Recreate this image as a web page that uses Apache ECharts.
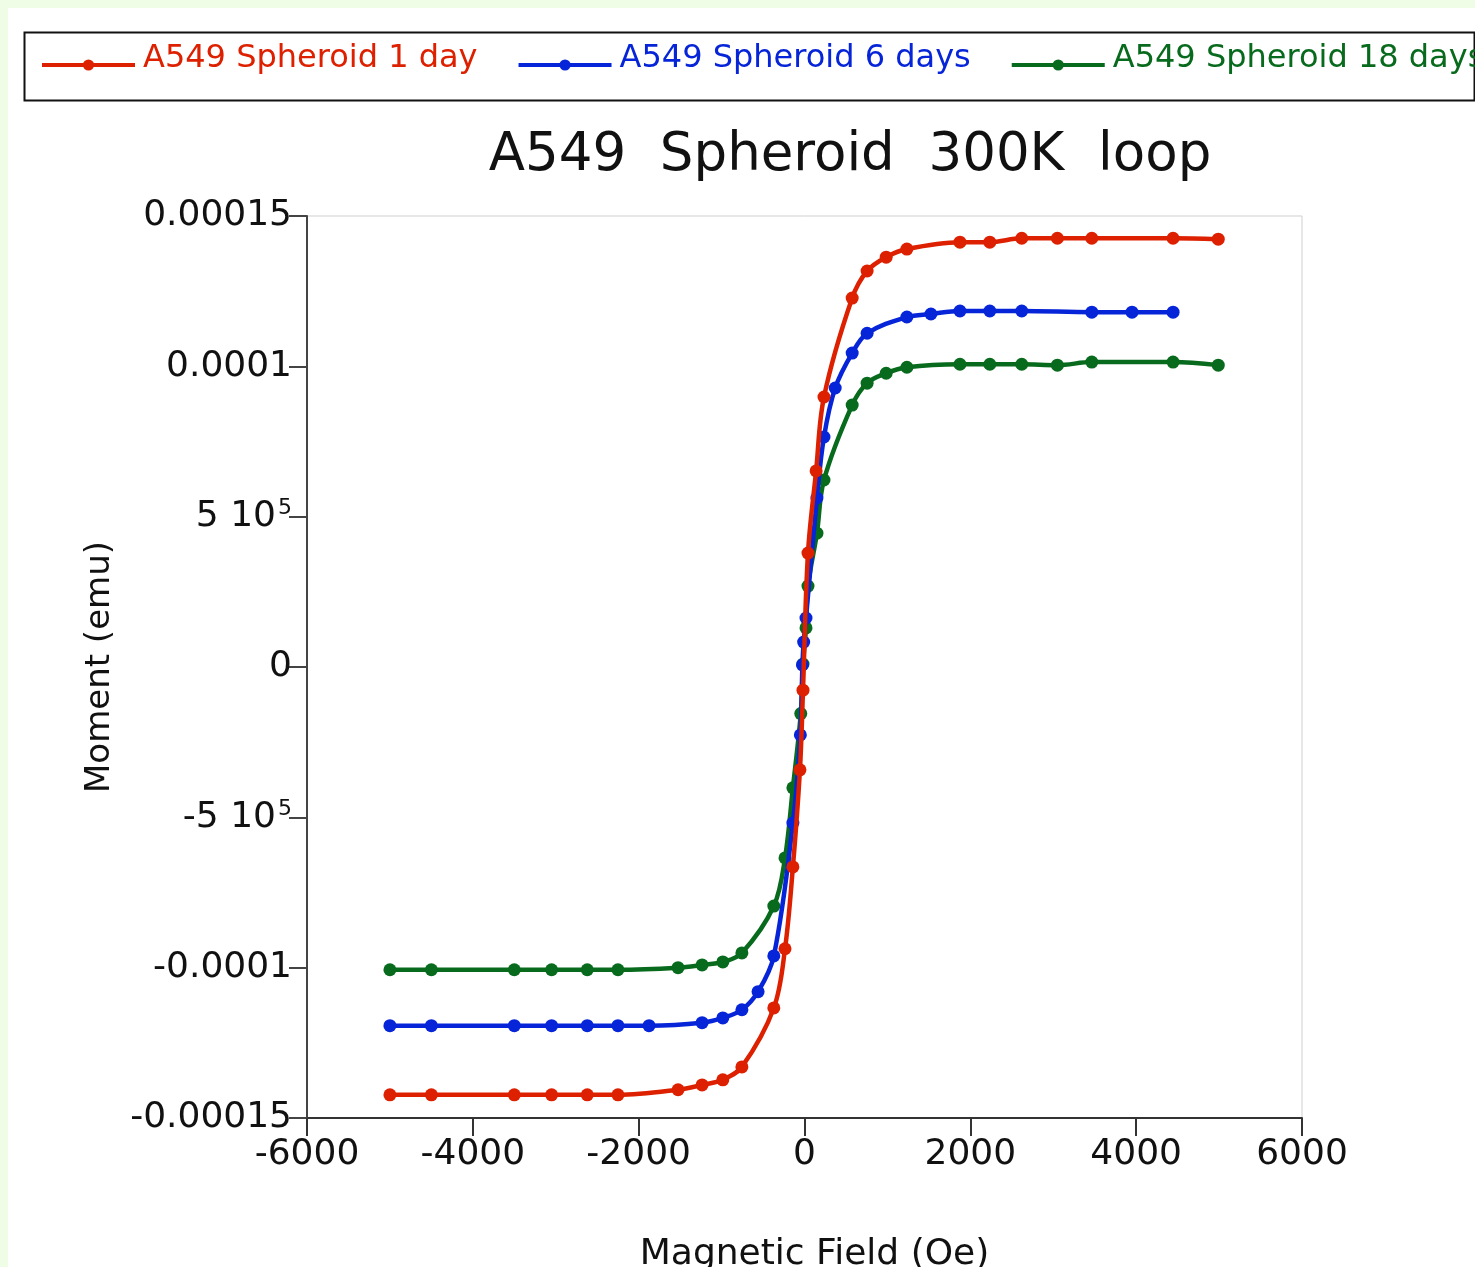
<!DOCTYPE html>
<html>
<head>
<meta charset="utf-8">
<script src="https://cdn.jsdelivr.net/npm/echarts@6/dist/echarts.min.js"></script>
<style>
  html, body { margin: 0; padding: 0; background: #effce6; width: 1475px; height: 1267px; overflow: hidden; }
  #chart { position: absolute; left: 8px; top: 8px; width: 1467px; height: 1259px; background: #ffffff; }
</style>
</head>
<body>
<div id="chart"></div>
<script>
// ---- Data (Magnetic field in Oe, moment in emu) ----
const seriesNames = ['A549 Spheroid 1 day', 'A549 Spheroid 6 days', 'A549 Spheroid 18 days'];

const fieldDay1 = [-5000,-4500,-3500,-3050,-2620,-2250,-1525,-1235,-985,-755,-370,-235,-140,-55,-18,42,140,235,575,755,985,1235,1875,2235,2620,3050,3465,4445,4990];
const momentDay1 = [-1.423e-4,-1.423e-4,-1.423e-4,-1.423e-4,-1.423e-4,-1.423e-4,-1.406e-4,-1.390e-4,-1.373e-4,-1.330e-4,-1.134e-4,-0.937e-4,-0.665e-4,-0.342e-4,-0.077e-4,0.379e-4,0.652e-4,0.898e-4,1.227e-4,1.317e-4,1.363e-4,1.390e-4,1.413e-4,1.413e-4,1.426e-4,1.426e-4,1.426e-4,1.426e-4,1.423e-4];

const fieldDay6 = [-5000,-4500,-3500,-3050,-2620,-2250,-1875,-1235,-985,-755,-560,-370,-140,-50,-25,-10,18,150,235,370,575,755,1235,1525,1875,2235,2620,3465,3950,4445];
const momentDay6 = [-1.193e-4,-1.193e-4,-1.193e-4,-1.193e-4,-1.193e-4,-1.193e-4,-1.193e-4,-1.183e-4,-1.167e-4,-1.140e-4,-1.080e-4,-0.961e-4,-0.519e-4,-0.226e-4,0.007e-4,0.083e-4,0.163e-4,0.562e-4,0.765e-4,0.928e-4,1.044e-4,1.110e-4,1.164e-4,1.174e-4,1.184e-4,1.184e-4,1.184e-4,1.180e-4,1.180e-4,1.180e-4];

const fieldDay18 = [-5000,-4500,-3500,-3050,-2620,-2250,-1525,-1235,-985,-755,-370,-235,-140,-45,-18,18,42,150,235,575,755,985,1235,1875,2235,2620,3050,3465,4445,4990];
const momentDay18 = [-1.007e-4,-1.007e-4,-1.007e-4,-1.007e-4,-1.007e-4,-1.007e-4,-1.000e-4,-0.991e-4,-0.981e-4,-0.951e-4,-0.795e-4,-0.635e-4,-0.402e-4,-0.155e-4,0.010e-4,0.130e-4,0.269e-4,0.445e-4,0.622e-4,0.871e-4,0.944e-4,0.977e-4,0.997e-4,1.007e-4,1.007e-4,1.007e-4,1.004e-4,1.014e-4,1.014e-4,1.004e-4];

// Tick labels
const yTickValues = [-0.00015, -0.0001, -0.00005, 0, 0.00005, 0.0001, 0.00015];
const yTickLabels = ['-0.00015', '-0.0001', '-5 10{sup|5}', '0', '5 10{sup|5}', '0.0001', '0.00015'];

const titleText = 'A549  Spheroid  300K  loop';
const xAxisName = 'Magnetic Field (Oe)';
const yAxisName = 'Moment (emu)';

const colors = ['#dd2000', '#0625d8', '#086a1c'];
const FONT = 'DejaVu Sans';

function pairs(xs, ys) { return xs.map((x, i) => [x, ys[i]]); }

const chart = echarts.init(document.getElementById('chart'), null, { renderer: 'canvas' });

const option = {
  backgroundColor: '#ffffff',
  animation: false,
  color: colors,
  title: {
    text: titleText,
    left: 837,
    top: 117,
    textAlign: 'center',
    textStyle: { fontFamily: FONT, fontSize: 53, fontWeight: 'normal', color: '#111' }
  },
  graphic: [{
    type: 'rect',
    left: 14, top: 22,
    shape: { width: 1450, height: 68 },
    style: { fill: 'none', stroke: '#111', lineWidth: 2 },
    z: 0
  }],
  legend: {
    left: 32,
    top: 35,
    width: 2000,
    padding: 0,
    itemWidth: 93,
    itemHeight: 14,
    itemGap: 39,
    lineStyle: { width: 4 },
    formatter: name => '{t|' + name + '}',
    data: seriesNames.map((n, i) => ({ name: n, textStyle: { color: colors[i] } })),
    textStyle: {
      fontFamily: FONT, fontSize: 32,
      rich: { t: { fontFamily: FONT, fontSize: 32, padding: [0, 0, 12, 3] } }
    }
  },
  grid: {
    left: 299, top: 208, width: 995, height: 902,
    outerBoundsMode: 'none',
    show: true, borderColor: '#cfcfcf', borderWidth: 1, backgroundColor: 'transparent'
  },
  xAxis: {
    type: 'value', min: -6000, max: 6000, interval: 2000,
    name: xAxisName, nameLocation: 'middle', nameGap: 119,
    nameTextStyle: { fontFamily: FONT, fontSize: 36, color: '#111', padding: [0, 0, 0, 20] },
    axisLine: { onZero: false, lineStyle: { color: '#333', width: 2 } },
    axisTick: { inside: false, length: 18, lineStyle: { color: '#333', width: 2 } },
    axisLabel: { fontFamily: FONT, fontSize: 36, color: '#111', margin: 19, formatter: v => String(v) },
    splitLine: { show: false }
  },
  yAxis: {
    type: 'value', min: -0.00015, max: 0.00015, interval: 0.00005,
    name: yAxisName, nameLocation: 'middle', nameGap: 190, nameRotate: 90,
    nameTextStyle: { fontFamily: FONT, fontSize: 34, color: '#111' },
    axisLine: { onZero: false, lineStyle: { color: '#444', width: 2 } },
    axisTick: { inside: false, length: 18, lineStyle: { color: '#444', width: 2 } },
    axisLabel: {
      fontFamily: FONT, fontSize: 36, color: '#111', margin: 15,
      formatter: function (v) {
        let best = 0, d = Infinity;
        yTickValues.forEach((t, i) => { const dd = Math.abs(t - v); if (dd < d) { d = dd; best = i; } });
        return yTickLabels[best];
      },
      rich: {
        sup: { fontFamily: FONT, fontSize: 22, color: '#111', verticalAlign: 'top', padding: [0, 0, 16, 2] }
      }
    },
    splitLine: { show: false }
  },
  series: [
    { name: seriesNames[0], data: pairs(fieldDay1, momentDay1) },
    { name: seriesNames[1], data: pairs(fieldDay6, momentDay6) },
    { name: seriesNames[2], data: pairs(fieldDay18, momentDay18) }
  ].map((s, i) => Object.assign(s, {
    type: 'line', smooth: 0.35, symbol: 'circle', symbolSize: 13,
    lineStyle: { width: 4.5, color: colors[i] },
    itemStyle: { color: colors[i] },
    z: 3 - i
  }))
};
chart.setOption(option);
</script>
</body>
</html>
